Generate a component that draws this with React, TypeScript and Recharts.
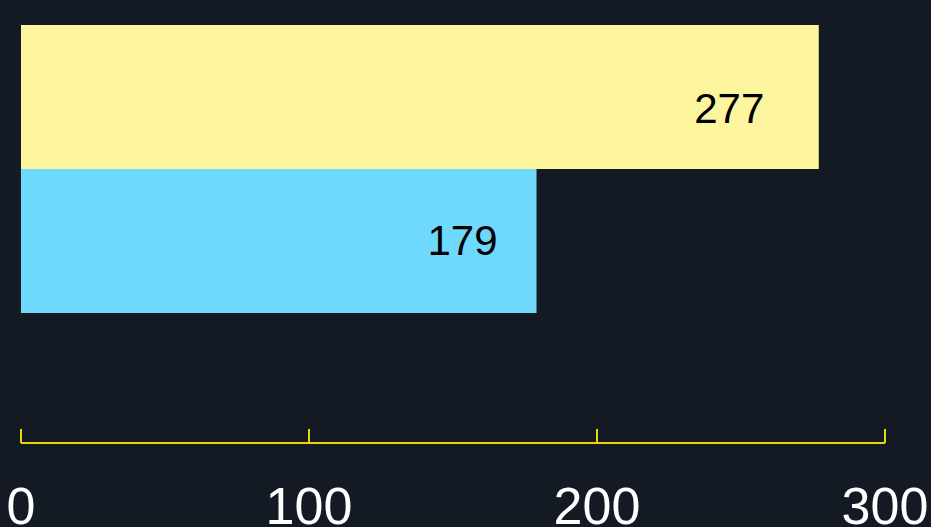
import React from "react";
import { BarChart, Bar, XAxis, YAxis, Cell, LabelList } from "recharts";

const categories = ["A", "B"];
const values = [277, 179];
const barColors = ["#fdf59d", "#6ed8fd"];
const xTicks = [0, 100, 200, 300];

const data = categories.map((name, i) => ({ name, value: values[i] }));

const labelShift = [
  { dx: -89.5, dy: 11 },
  { dx: -74, dy: -0.5 },
];

const BarLabel = (props: any) => {
  const { x, y, width, height, value, index } = props;
  const s = labelShift[index] || { dx: -60, dy: 0 };
  return (
    <text
      x={x + width + s.dx}
      y={y + height / 2 + s.dy}
      textAnchor="middle"
      dominantBaseline="central"
      fill="#000000"
      fontSize={42}
      fontFamily="'Liberation Sans', Arial, sans-serif"
    >
      {value}
    </text>
  );
};

export default function App() {
  return (
    <div
      style={{
        position: "absolute",
        left: 0,
        top: 0,
        width: 931,
        height: 527,
        background: "#131a23",
        overflow: "hidden",
      }}
    >
      <BarChart
        width={931}
        height={527}
        data={data}
        layout="vertical"
        margin={{ top: 25, right: 46, left: 21, bottom: 0 }}
        barCategoryGap={0}
      >
        <XAxis
          type="number"
          domain={[0, 300]}
          ticks={xTicks}
          interval={0}
          height={84}
          axisLine={{ stroke: "#e6d800", strokeWidth: 2 }}
          tickLine={{ stroke: "#e6d800", strokeWidth: 2 }}
          tickSize={-14}
          tickMargin={58}
          tick={{
            fill: "#ffffff",
            fontSize: 52,
            fontFamily: "'Liberation Sans', Arial, sans-serif",
          }}
        />
        <YAxis
          type="category"
          dataKey="name"
          hide
          width={0}
          padding={{ top: 0, bottom: 130 }}
        />
        <Bar dataKey="value" isAnimationActive={false}>
          {data.map((d, i) => (
            <Cell key={d.name} fill={barColors[i]} />
          ))}
          <LabelList dataKey="value" content={<BarLabel />} />
        </Bar>
      </BarChart>
    </div>
  );
}
